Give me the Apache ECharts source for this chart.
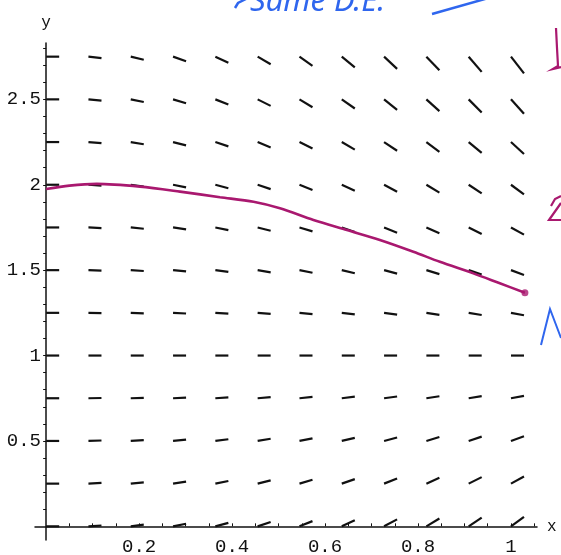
<!DOCTYPE html>
<html>
<head>
<meta charset="utf-8">
<script src="https://cdn.jsdelivr.net/npm/echarts@6/dist/echarts.min.js"></script>
<style>
html,body{margin:0;padding:0;background:#fff;}
#chart{width:561px;height:555px;}
</style>
</head>
<body>
<div id="chart"></div>
<script>
// ---- data ----
const xGrid = [0, 0.091, 0.182, 0.273, 0.364, 0.455, 0.545, 0.636, 0.727, 0.818, 0.909, 1.0];
const yGrid = [0, 0.25, 0.5, 0.75, 1, 1.25, 1.5, 1.75, 2, 2.25, 2.5, 2.75];
// slope dy/dx of each dash, one row per yGrid value, one column per xGrid value
const slopes = [
  [0, 0.18, 0.36, 0.55, 0.73, 0.91, 1.09, 1.27, 1.45, 1.64, 1.82, 2.00],
  [0, 0.14, 0.27, 0.41, 0.55, 0.68, 0.82, 0.95, 1.09, 1.23, 1.36, 1.50],
  [0, 0.09, 0.18, 0.27, 0.36, 0.45, 0.55, 0.64, 0.73, 0.82, 0.91, 1.00],
  [0, 0.05, 0.09, 0.14, 0.18, 0.23, 0.27, 0.32, 0.36, 0.41, 0.45, 0.50],
  [0, 0, 0, 0, 0, 0, 0, 0, 0, 0, 0, 0],
  [0, -0.05, -0.09, -0.14, -0.18, -0.23, -0.27, -0.32, -0.36, -0.41, -0.45, -0.50],
  [0, -0.09, -0.18, -0.27, -0.36, -0.45, -0.55, -0.64, -0.73, -0.82, -0.91, -1.00],
  [0, -0.14, -0.27, -0.41, -0.55, -0.68, -0.82, -0.95, -1.09, -1.23, -1.36, -1.50],
  [0, -0.18, -0.36, -0.55, -0.73, -0.91, -1.09, -1.27, -1.45, -1.64, -1.82, -2.00],
  [0, -0.23, -0.45, -0.68, -0.91, -1.14, -1.36, -1.59, -1.82, -2.05, -2.27, -2.50],
  [0, -0.27, -0.55, -0.82, -1.09, -1.36, -1.64, -1.91, -2.18, -2.45, -2.73, -3.00],
  [0, -0.32, -0.64, -0.95, -1.27, -1.59, -1.91, -2.23, -2.55, -2.86, -3.18, -3.50]
];
// hand-drawn solution curve
const curveX = [0, 0.05, 0.109, 0.202, 0.288, 0.374, 0.446, 0.503, 0.575, 0.647, 0.718, 0.790, 0.847, 0.919, 0.976, 1.03];
const curveY = [1.975, 1.995, 2.005, 1.989, 1.96, 1.927, 1.90, 1.862, 1.794, 1.735, 1.677, 1.608, 1.549, 1.481, 1.423, 1.368];
// tick labels
const xTickLabels = [0.2, 0.4, 0.6, 0.8, 1];
const yTickLabels = [0.5, 1, 1.5, 2, 2.5];
const xMinorTicks = [0.05,0.1,0.15,0.2,0.25,0.3,0.35,0.4,0.45,0.5,0.55,0.6,0.65,0.7,0.75,0.8,0.85,0.9,0.95,1,1.05];
const yMinorTicks = [0.1,0.2,0.3,0.4,0.5,0.6,0.7,0.8,0.9,1,1.1,1.2,1.3,1.4,1.5,1.6,1.7,1.8,1.9,2,2.1,2.2,2.3,2.4,2.5,2.6,2.7,2.8];

// ---- styles ----
const DASH_DX = 0.028;          // horizontal extent of each slope dash (data units)
const MONO = '"Liberation Mono", "DejaVu Sans Mono", monospace';
const AXIS_COLOR = '#111';
const CURVE_COLOR = '#a9186f';
const BLUE = '#2f66ee';

const fieldData = [];
yGrid.forEach((y, j) => xGrid.forEach((x, k) => fieldData.push([x, y, slopes[j][k]])));
const curveData = curveX.map((x, i) => [x, curveY[i]]);

const chart = echarts.init(document.getElementById('chart'), null, {renderer: 'canvas'});
chart.setOption({
  backgroundColor: '#fff',
  animation: false,
  grid: {left: 35, right: 24, top: 43, bottom: 15, containLabel: false, outerBoundsMode: 'none'},
  xAxis: {
    type: 'value', min: -0.024, max: 1.056,
    name: 'x', nameLocation: 'end', nameGap: 10,
    nameTextStyle: {fontFamily: MONO, fontSize: 16, color: '#111', verticalAlign: 'middle'},
    axisLine: {onZero: true, lineStyle: {color: AXIS_COLOR, width: 1.5}},
    axisTick: {show: true, inside: true, length: 3, customValues: xMinorTicks, lineStyle: {color: AXIS_COLOR, width: 1}},
    axisLabel: {customValues: xTickLabels, fontFamily: MONO, fontSize: 19, color: '#111', margin: -3,
      formatter: v => String(v)},
    splitLine: {show: false}
  },
  yAxis: {
    type: 'value', min: -0.08, max: 2.83,
    name: 'y', nameLocation: 'end', nameGap: 12,
    nameTextStyle: {fontFamily: MONO, fontSize: 16, color: '#111', align: 'center'},
    axisLine: {onZero: true, lineStyle: {color: AXIS_COLOR, width: 1.5}},
    axisTick: {show: true, inside: false, length: 3, customValues: yMinorTicks, lineStyle: {color: AXIS_COLOR, width: 1}},
    axisLabel: {customValues: yTickLabels, fontFamily: MONO, fontSize: 19, color: '#111', margin: -6,
      formatter: v => String(v)},
    splitLine: {show: false}
  },
  series: [
    {
      type: 'custom',
      clip: false,
      data: fieldData,
      renderItem: function (params, api) {
        const x = api.value(0), y = api.value(1), m = api.value(2);
        const p1 = api.coord([x, y]);
        const p2 = api.coord([x + DASH_DX, y + DASH_DX * m]);
        return {
          type: 'line',
          shape: {x1: p1[0], y1: p1[1], x2: p2[0], y2: p2[1]},
          style: {stroke: '#111', lineWidth: 2.2}
        };
      },
      z: 2
    },
    {
      type: 'line',
      data: curveData,
      smooth: 0.3,
      showSymbol: false,
      lineStyle: {color: CURVE_COLOR, width: 2.6},
      z: 3
    },
    {
      type: 'scatter',
      data: [curveData[curveData.length - 1]],
      symbolSize: 7,
      itemStyle: {color: CURVE_COLOR},
      z: 4
    }
  ],
  graphic: [
    {type: 'text', left: 250, top: -13, z: 10,
      style: {text: 'Same D.E.', font: 'italic 31px "Noto Sans"', fill: BLUE}},
    {type: 'polyline', z: 10, shape: {points: [[246, -1], [238, 3], [235, 8]]},
      style: {stroke: BLUE, lineWidth: 2.5, fill: null}},
    {type: 'line', z: 10, shape: {x1: 432, y1: 14, x2: 492, y2: -3},
      style: {stroke: BLUE, lineWidth: 2.5}},
    {type: 'polyline', z: 10, shape: {points: [[541, 345], [550, 309], [561, 338]]},
      style: {stroke: BLUE, lineWidth: 2, fill: null}},
    {type: 'polyline', z: 10, shape: {points: [[556, 28], [557, 48], [558, 66], [553, 69], [561, 67]]},
      style: {stroke: CURVE_COLOR, lineWidth: 2.2, fill: null}},
    {type: 'polyline', z: 10, shape: {points: [[551, 206], [555, 199], [561, 196]]},
      style: {stroke: CURVE_COLOR, lineWidth: 2.2, fill: null}},
    {type: 'polyline', z: 10, shape: {points: [[561, 203], [549, 220], [561, 220]]},
      style: {stroke: CURVE_COLOR, lineWidth: 2.2, fill: null}}
  ]
});
</script>
</body>
</html>
